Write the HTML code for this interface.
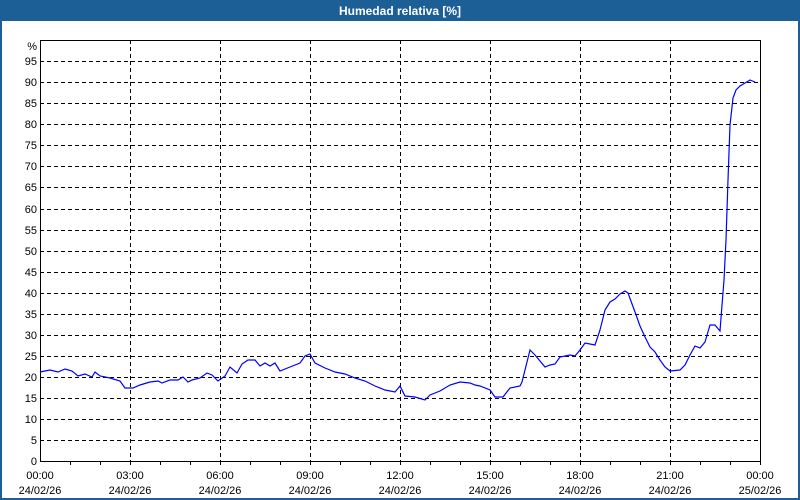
<!DOCTYPE html>
<html><head><meta charset="utf-8"><style>
html,body{margin:0;padding:0;width:800px;height:500px;overflow:hidden;background:#fff;}
</style></head><body>
<svg width="800" height="500" viewBox="0 0 800 500" xmlns="http://www.w3.org/2000/svg" style="font-family:'Liberation Sans',sans-serif">
<rect x="0" y="0" width="800" height="500" fill="#fff"/>
<rect x="0" y="0" width="800" height="21" fill="#1c5f96"/>
<rect x="0" y="0" width="2" height="500" fill="#1c5f96"/>
<rect x="798" y="0" width="2" height="500" fill="#1c5f96"/>
<rect x="0" y="498" width="800" height="2" fill="#1c5f96"/>
<text x="400" y="15" fill="#fff" font-size="12" font-weight="bold" text-anchor="middle">Humedad relativa [%]</text>
<g stroke="#000" stroke-width="1" stroke-dasharray="4,3" fill="none">
<path d="M40 440.5H760M40 419.5H760M40 398.5H760M40 377.5H760M40 356.5H760M40 335.5H760M40 314.5H760M40 293.5H760M40 272.5H760M40 251.5H760M40 230.5H760M40 209.5H760M40 187.5H760M40 166.5H760M40 145.5H760M40 124.5H760M40 103.5H760M40 82.5H760M40 61.5H760"/>
<path d="M130.5 40V461M220.5 40V461M310.5 40V461M400.5 40V461M490.5 40V461M580.5 40V461M670.5 40V461"/>
</g>
<rect x="40.5" y="40.5" width="720" height="421" fill="none" stroke="#000"/>
<g stroke="#000">
<path d="M70.5 461v4M100.5 461v4M130.5 461v4M160.5 461v4M190.5 461v4M220.5 461v4M250.5 461v4M280.5 461v4M310.5 461v4M340.5 461v4M370.5 461v4M400.5 461v4M430.5 461v4M460.5 461v4M490.5 461v4M520.5 461v4M550.5 461v4M580.5 461v4M610.5 461v4M640.5 461v4M670.5 461v4M700.5 461v4M730.5 461v4M760.5 461v4"/>
</g>
<g font-size="11" fill="#000" text-anchor="end">
<text x="37" y="465">0</text><text x="37" y="444">5</text><text x="37" y="423">10</text><text x="37" y="402">15</text><text x="37" y="381">20</text><text x="37" y="360">25</text><text x="37" y="339">30</text><text x="37" y="318">35</text><text x="37" y="297">40</text><text x="37" y="276">45</text><text x="37" y="255">50</text><text x="37" y="234">55</text><text x="37" y="213">60</text><text x="37" y="191">65</text><text x="37" y="170">70</text><text x="37" y="149">75</text><text x="37" y="128">80</text><text x="37" y="107">85</text><text x="37" y="86">90</text><text x="37" y="65">95</text><text x="37" y="50">%</text>
</g>
<g font-size="11" fill="#000" text-anchor="middle">
<text x="40" y="479">00:00</text><text x="40" y="494">24/02/26</text>
<text x="130" y="479">03:00</text><text x="130" y="494">24/02/26</text>
<text x="220" y="479">06:00</text><text x="220" y="494">24/02/26</text>
<text x="310" y="479">09:00</text><text x="310" y="494">24/02/26</text>
<text x="400" y="479">12:00</text><text x="400" y="494">24/02/26</text>
<text x="490" y="479">15:00</text><text x="490" y="494">24/02/26</text>
<text x="580" y="479">18:00</text><text x="580" y="494">24/02/26</text>
<text x="670" y="479">21:00</text><text x="670" y="494">24/02/26</text>
<text x="760" y="479">00:00</text><text x="760" y="494">25/02/26</text>
</g>
<polyline fill="none" stroke="#0000ff" stroke-width="1.2" points="40,372 50,370 58,372 65,369 72,371 78,376 85,374 92,377 95,372 100,376 110,378 120,381 125,388 133,388 140,385 150,382 158,381 162,383 170,380 178,380 183,377 188,382 192,380 200,378 207,373 212,375 218,381 225,376 230,367 237,373 242,364 248,360 255,360 260,366 265,363 270,366 275,363 280,371 290,367 300,363 305,356 310,354 315,363 325,368 335,372 345,374 355,378 365,381 375,386 385,390 395,392 400,386 405,396 415,397 425,400 430,395 440,391 450,385 460,382 470,383 475,385 480,386 490,390 495,397 503,397 510,388 520,386 522,382 530,350 535,355 545,367 550,365 555,364 560,357 570,355 575,356 580,350 585,343 595,345 600,330 605,310 610,302 615,299 620,294 625,291 628,293 635,312 640,326 645,337 650,347 655,352 660,360 665,367 670,371 680,370 685,365 690,355 695,346 700,348 705,342 710,325 715,325 720,331 722,305 724,280 726,240 728,180 730,125 733,98 736,90 740,86 745,83 750,80 755,82"/>
</svg>
</body></html>
